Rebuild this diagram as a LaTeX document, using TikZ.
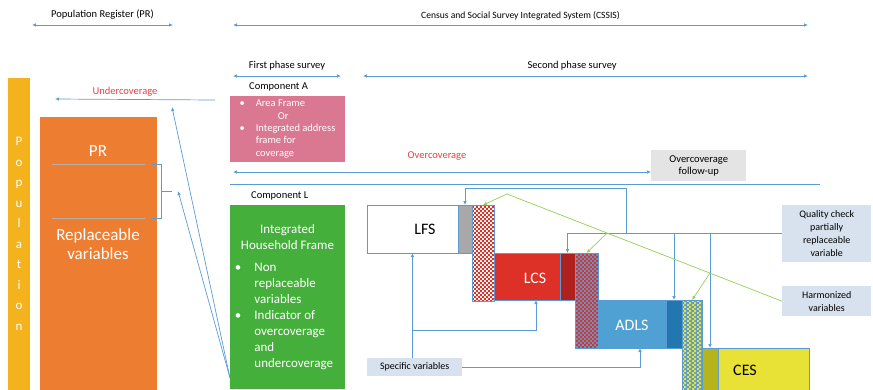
\documentclass[tikz,border=0pt]{standalone}
\usepackage{fontspec}
\setmainfont{Carlito}
\usepackage{tikz}
\usetikzlibrary{arrows.meta,positioning,calc,patterns}
\definecolor{lineblue}{HTML}{5B9BD5}
\definecolor{popyellow}{HTML}{F4B21C}
\definecolor{prorange}{HTML}{ED7D31}
\definecolor{framepink}{HTML}{DA7892}
\definecolor{framegreen}{HTML}{45AF3B}
\definecolor{lfsgrey}{HTML}{A8A8A8}
\definecolor{lcsred}{HTML}{DD3027}
\definecolor{lcsdark}{HTML}{B0201C}
\definecolor{adlsblue}{HTML}{4FA1D3}
\definecolor{adlsdark}{HTML}{2277AE}
\definecolor{cesyellow}{HTML}{E9E236}
\definecolor{cesolive}{HTML}{B7B41B}
\definecolor{checkyellow}{HTML}{E6E23A}
\definecolor{notefill}{HTML}{D7E2EE}
\definecolor{followfill}{HTML}{E4E4E4}
\definecolor{harmgreen}{HTML}{93D150}
\definecolor{alertred}{HTML}{F23A3A}
\definecolor{divider}{HTML}{B9AEA6}
% small checks for the harmonized strips
\pgfdeclarepatternformonly{smallchecks}{\pgfpointorigin}{\pgfpoint{4.4pt}{4.4pt}}{\pgfpoint{4.4pt}{4.4pt}}{%
  \pgfpathrectangle{\pgfpointorigin}{\pgfpoint{2.2pt}{2.2pt}}%
  \pgfpathrectangle{\pgfpoint{2.2pt}{2.2pt}}{\pgfpoint{2.2pt}{2.2pt}}%
  \pgfusepath{fill}}
\tikzset{
  block/.style={anchor=north west,inner sep=0pt,outer sep=0pt},
  band/.style={block,draw=lineblue,line width=0.6pt},
  checks/.style={band,preaction={fill=#1},pattern=smallchecks},
  note/.style={anchor=north west,fill=notefill,inner sep=0pt,align=center,font=\fontsize{10}{13}\selectfont},
  caption/.style={font=\fontsize{10.5}{12}\selectfont,inner sep=1pt},
  big/.style={font=\fontsize{16}{18}\selectfont},
  arr/.style={draw=lineblue,line width=0.7pt,-{Latex[length=4pt,width=3.5pt]}},
  span/.style={draw=lineblue,line width=0.7pt,{Latex[length=4pt,width=3.5pt]}-{Latex[length=4pt,width=3.5pt]}},
  harm/.style={draw=harmgreen,line width=0.7pt,-{Latex[length=4pt,width=3.5pt]}}
}

\begin{document}
\begin{tikzpicture}[x=1pt,y=-1pt]
  \useasboundingbox (0,0) rectangle (873,389);
  \clip (0,0) rectangle (873,389);

  % scope arrows on top
  \coordinate (prL) at (32,25);   \coordinate (prR) at (173,25);
  \coordinate (csL) at (233,25);  \coordinate (csR) at (808,25);
  \coordinate (p1L) at (233,76);  \coordinate (p1R) at (341,76);
  \coordinate (p2L) at (363,76);  \coordinate (p2R) at (808,76);
  \draw[span] (prL) -- node[caption,above=4pt] (prlbl) {Population Register (PR)} (prR);
  \draw[span] (csL) -- node[caption,above=4pt,font=\fontsize{9.6}{11}\selectfont] (cslbl) {Census and Social Survey Integrated System (CSSIS)} (csR);
  \draw[span] (p1L) -- node[caption,above=4pt] (p1lbl) {First phase survey} (p1R);
  \draw[span] (p2L) -- node[caption,above=4pt,pos=0.47] (p2lbl) {Second phase survey} (p2R);

  % population and register
  \node[block,fill=popyellow,minimum width=22pt,minimum height=320pt] (pop) at (8,78) {};
  \node[text=white,align=center,font=\fontsize{13}{20.5}\selectfont] (poptxt) at (19,234)
    {P\\o\\p\\u\\l\\a\\t\\i\\o\\n};
  \node[block,fill=prorange,minimum width=117pt,minimum height=280pt] (pr) at (40,117) {};
  \node[text=white,font=\fontsize{17}{19}\selectfont] (prtxt) at (98,151) {PR};
  \node[text=white,align=center,font=\fontsize{17}{19}\selectfont] (reptxt) at (98,244) {Replaceable\\variables};
  \draw[divider,line width=0.8pt] (52,164) coordinate (d1) -- (145,164);
  \draw[divider,line width=0.8pt] (52,218) coordinate (d2) -- (145,218);
  \draw[lineblue,line width=0.7pt] (152,164) -| (161,218) -- (152,218);
  \draw[lineblue,line width=0.7pt] (161,191) -- (172,191) coordinate (brk);

  % undercoverage
  \coordinate (ucR) at (215,100); \coordinate (ucL) at (55,99);
  \draw[arr] (ucR) -- (ucL);
  \node[caption,text=alertred] (uclbl) at (125,92) {Undercoverage};

  % component A
  \node[caption,anchor=west] (compa) at (248,87) {Component A};
  \node[block,fill=framepink,minimum width=115pt,minimum height=66pt,text=white,
        font=\fontsize{10.5}{12.3}\selectfont] (areaframe) at (230,96)
    {\begin{tabular}{@{}c@{\hspace{11pt}}l@{}}
       \textbullet & Area Frame\\
                   & \hspace{22pt}Or\\
       \textbullet & Integrated address\\
                   & frame for\\
                   & coverage
     \end{tabular}};

  % overcoverage
  \node[anchor=north west,fill=followfill,minimum width=95pt,minimum height=31pt,inner sep=0pt,
        align=center,font=\fontsize{10.5}{12.5}\selectfont] (follow) at (651,150) {Overcoverage\\follow-up};
  \coordinate (ocL) at (233,172);
  \draw[span] (ocL) -- (follow.west |- ocL);
  \node[caption,text=alertred] (oclbl) at (437,156) {Overcoverage};
  \coordinate (sepL) at (230,184); \coordinate (sepR) at (820,184);
  \draw[lineblue,line width=0.7pt] (sepL) -- (sepR);

  % component L
  \node[caption,anchor=west] (compl) at (250,196) {Component L};
  \node[block,fill=framegreen,minimum width=115pt,minimum height=184pt,text=white,
        font=\fontsize{13}{16}\selectfont] (hhframe) at (230,205)
    {\begin{tabular}{@{}c@{\hspace{13pt}}l@{}}
       \multicolumn{2}{c}{Integrated}\\
       \multicolumn{2}{c}{Household Frame}\\[6pt]
       \textbullet & Non\\
                   & replaceable\\
                   & variables\\
       \textbullet & Indicator of\\
                   & overcoverage\\
                   & and\\
                   & undercoverage
     \end{tabular}};
  \coordinate (hhfoot) at (230,378);
  \draw[arr] (hhfoot) -- (172,107);
  \draw[arr] (hhfoot) -- ([xshift=6pt]brk);

  % survey staircase
  \node[band,fill=white,minimum width=91pt,minimum height=48pt] (lfs) at (367,205) {};
  \node[band,fill=lfsgrey,minimum width=14pt,minimum height=48pt] (lfsq) at (458,205) {};
  \node[checks=white,pattern color=lcsred,minimum width=22pt,minimum height=96pt] (lfsh) at (472,205) {};
  \node[band,fill=lcsred,minimum width=66pt,minimum height=47pt] (lcs) at (494,253) {};
  \node[band,fill=lcsdark,minimum width=15pt,minimum height=47pt] (lcsq) at (560,253) {};
  \node[checks=lineblue,pattern color=lcsred,minimum width=23pt,minimum height=95pt] (lcsh) at (575,253) {};
  \node[band,fill=adlsblue,minimum width=68pt,minimum height=48pt] (adls) at (598,300) {};
  \node[band,fill=adlsdark,minimum width=16pt,minimum height=48pt] (adlsq) at (666,300) {};
  \node[checks=lineblue,pattern color=checkyellow,minimum width=20pt,minimum height=100pt] (adlsh) at (682,300) {};
  \node[band,fill=cesyellow,minimum width=107pt,minimum height=52pt] (ces) at (702,348) {};
  \node[band,fill=cesolive,minimum width=16pt,minimum height=52pt] (cesq) at (702,348) {};
  \node[big] (lfstxt) at (425,229) {LFS};
  \node[big,text=white] (lcstxt) at (535,278) {LCS};
  \node[big,text=white] (adlstxt) at (632,325) {ADLS};
  \node[big] (cestxt) at (745,370) {CES};

  % notes on the right and below
  \node[note,minimum width=89pt,minimum height=57pt] (qc) at (782,205)
    {Quality check\\partially\\replaceable\\variable};
  \node[note,minimum width=89pt,minimum height=30pt] (hv) at (782,286)
    {Harmonized\\variables};
  \node[note,minimum width=95pt,minimum height=18pt] (sv) at (367,358) {Specific variables};

  % quality check links
  \coordinate (qtop) at (626,188);
  \draw[arr] (qc.west) -| (lcsq.north);
  \draw[arr] (adlsq.north |- qc.west) -- (adlsq.north);
  \draw[arr] (cesq.north |- qc.west) -- (cesq.north);
  \draw[arr] (qtop |- qc.west) -- (qtop) -| (lfsq.north);

  % harmonized links
  \coordinate (hbend) at (507,194);
  \draw[harm] (hv.west) -- (hbend) -- (lfsh.north);
  \draw[harm] ($(hbend)!0.364!(hv.west)$) -- (lcsh.north);
  \draw[harm] ($(hbend)!0.738!(hv.west)$) -- (adlsh.north);

  % specific variable links
  \coordinate (svjoin) at (lfs.south |- 0,330);
  \draw[arr] (sv.north -| lfs.south) -- (lfs.south);
  \draw[arr] (svjoin) -| ([xshift=9pt]lcs.south);
  \draw[arr] (sv.east) -| ([xshift=8pt]adls.south);
\end{tikzpicture}
\end{document}
